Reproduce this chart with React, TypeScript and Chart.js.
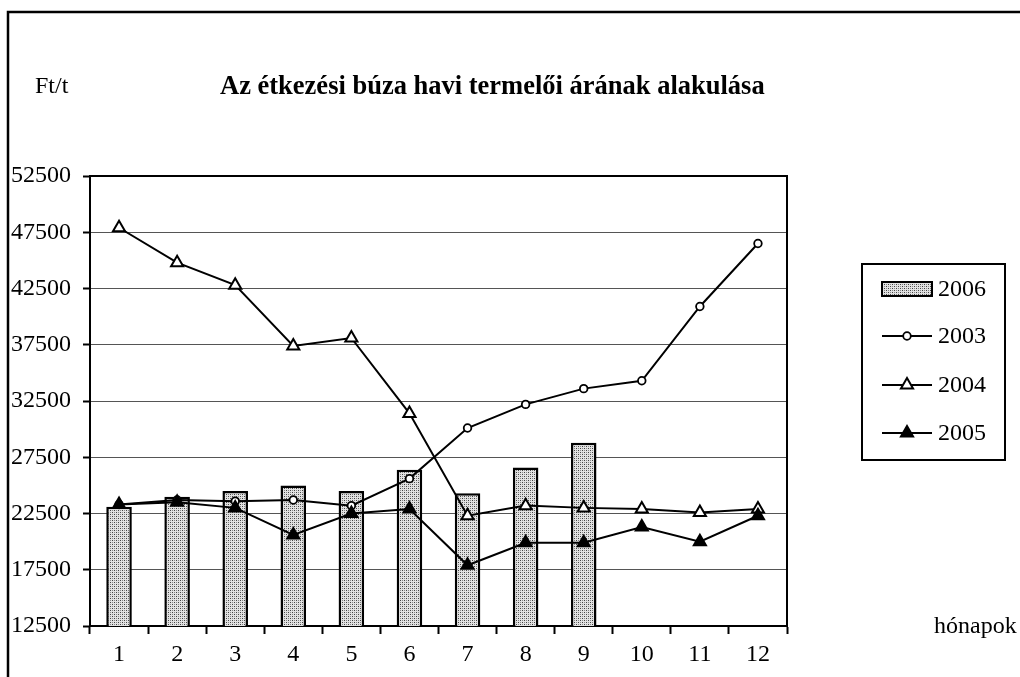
import React, { useEffect, useRef } from "react";
import { Chart, registerables } from "chart.js";

Chart.register(...registerables);

const categories = ["1", "2", "3", "4", "5", "6", "7", "8", "9", "10", "11", "12"];
const s2006 = [23100, 24000, 24500, 25000, 24500, 26400, 24300, 26600, 28800, null, null, null];
const s2003 = [23300, 23700, 23600, 23700, 23200, 25600, 30100, 32200, 33600, 34300, 40900, 46500];
const s2004 = [47900, 44800, 42800, 37400, 38100, 31400, 22300, 23200, 23000, 22900, 22600, 22900];
const s2005 = [23300, 23500, 23000, 20600, 22500, 22900, 17900, 19900, 19900, 21300, 20000, 22300];
const yMin = 12500;
const yMax = 52500;
const yStep = 5000;
const titleText = "Az étkezési búza havi termelői árának alakulása";
const unitText = "Ft/t";
const xAxisText = "hónapok";

const FONT = "'Liberation Serif', 'Times New Roman', serif";

function makePattern(): CanvasPattern | string {
  const c = document.createElement("canvas");
  c.width = 4;
  c.height = 4;
  const g = c.getContext("2d");
  if (!g) return "#ccc";
  g.fillStyle = "#e2e2e2";
  g.fillRect(0, 0, 4, 4);
  g.fillStyle = "#444";
  g.fillRect(0, 0, 1, 1);
  g.fillRect(2, 2, 1, 1);
  g.fillStyle = "#888";
  g.fillRect(2, 0, 1, 1);
  g.fillRect(0, 2, 1, 1);
  const p = g.createPattern(c, "repeat");
  return p || "#ccc";
}

export default function App() {
  const ref = useRef<HTMLCanvasElement | null>(null);

  useEffect(() => {
    if (!ref.current) return;
    const pattern = makePattern();

    const decor = {
      id: "decor",
      afterDraw(chart: any) {
        const ctx = chart.ctx;
        const a = chart.chartArea;
        ctx.save();
        // plot top & right border
        ctx.strokeStyle = "#000";
        ctx.lineWidth = 2;
        ctx.beginPath();
        ctx.moveTo(a.left, a.top);
        ctx.lineTo(a.right, a.top);
        ctx.lineTo(a.right, a.bottom);
        ctx.stroke();
        // outer frame
        ctx.lineWidth = 2.5;
        ctx.beginPath();
        ctx.moveTo(8, 677);
        ctx.lineTo(8, 12);
        ctx.lineTo(1020, 12);
        ctx.stroke();
        // texts
        ctx.fillStyle = "#000";
        ctx.textBaseline = "middle";
        ctx.textAlign = "left";
        ctx.font = `24px ${FONT}`;
        ctx.fillText(unitText, 35, 87);
        ctx.fillText(xAxisText, 934, 627);
        ctx.font = `bold 26.5px ${FONT}`;
        ctx.fillText(titleText, 220, 87);

        // legend
        const lx = 862, ly = 264, lw = 143, lh = 196;
        ctx.lineWidth = 2;
        ctx.strokeStyle = "#000";
        ctx.strokeRect(lx, ly, lw, lh);
        const ds = chart.data.datasets;
        const rows = [289, 336, 385, 433];
        ds.forEach((d: any, i: number) => {
          const y = rows[i];
          if (d.type === "bar") {
            ctx.fillStyle = pattern;
            ctx.fillRect(882, y - 7, 50, 14);
            ctx.lineWidth = 2;
            ctx.strokeStyle = "#000";
            ctx.strokeRect(882, y - 7, 50, 14);
          } else {
            ctx.strokeStyle = "#000";
            ctx.lineWidth = 2;
            ctx.beginPath();
            ctx.moveTo(882, y);
            ctx.lineTo(932, y);
            ctx.stroke();
            ctx.fillStyle = d.pointBackgroundColor;
            ctx.lineWidth = d.pointBorderWidth;
            ctx.beginPath();
            if (d.pointStyle === "circle") {
              ctx.arc(907, y, d.pointRadius, 0, Math.PI * 2);
            } else {
              const r = d.pointRadius;
              for (let k = 0; k < 3; k++) {
                const ang = (k * 2 * Math.PI) / 3;
                const px = 907 + Math.sin(ang) * r;
                const py = y - Math.cos(ang) * r;
                if (k === 0) ctx.moveTo(px, py);
                else ctx.lineTo(px, py);
              }
              ctx.closePath();
            }
            ctx.fill();
            ctx.stroke();
          }
          ctx.fillStyle = "#000";
          ctx.font = `24px ${FONT}`;
          ctx.textAlign = "left";
          ctx.textBaseline = "middle";
          ctx.fillText(d.label, 938, y + 1);
        });
        ctx.restore();
      },
    };

    const chart = new Chart(ref.current, {
      type: "bar",
      data: {
        labels: categories,
        datasets: [
          {
            type: "bar",
            label: "2006",
            data: s2006,
            backgroundColor: pattern as any,
            borderColor: "#000",
            borderWidth: 2.5,
            borderSkipped: "bottom",
            barPercentage: 0.44,
            categoryPercentage: 1,
            order: 10,
          },
          {
            type: "line",
            label: "2003",
            data: s2003,
            borderColor: "#000",
            borderWidth: 2,
            pointStyle: "circle",
            pointRadius: 3.8,
            pointBorderWidth: 1.8,
            pointBackgroundColor: "#fff",
            pointBorderColor: "#000",
            tension: 0,
            order: 3,
          },
          {
            type: "line",
            label: "2004",
            data: s2004,
            borderColor: "#000",
            borderWidth: 2,
            pointStyle: "triangle",
            pointRadius: 7,
            pointBorderWidth: 2,
            pointBackgroundColor: "#fff",
            pointBorderColor: "#000",
            tension: 0,
            order: 2,
          },
          {
            type: "line",
            label: "2005",
            data: s2005,
            borderColor: "#000",
            borderWidth: 2,
            pointStyle: "triangle",
            pointRadius: 7,
            pointBorderWidth: 2,
            pointBackgroundColor: "#000",
            pointBorderColor: "#000",
            tension: 0,
            order: 1,
          },
        ] as any,
      },
      options: {
        responsive: false,
        animation: false,
        layout: { padding: { left: 0, top: 176, right: 233, bottom: 0 } },
        plugins: {
          legend: { display: false },
          title: { display: false },
          tooltip: { enabled: false },
        },
        scales: {
          x: {
            offset: true,
            grid: {
              offset: true,
              drawOnChartArea: false,
              drawTicks: true,
              tickLength: 8,
              tickColor: "#000",
              tickWidth: 2,
            },
            border: { color: "#000", width: 2 },
            ticks: {
              color: "#000",
              font: { family: FONT, size: 24 },
              padding: 6,
              maxRotation: 0,
            },
            afterFit: (s: any) => {
              s.height = 51;
            },
          },
          y: {
            min: yMin,
            max: yMax,
            grid: {
              color: "#555",
              lineWidth: 1,
              tickLength: 7,
              tickColor: "#000",
              tickWidth: 2,
            },
            border: { color: "#000", width: 2 },
            ticks: {
              stepSize: yStep,
              color: "#000",
              font: { family: FONT, size: 24 },
              padding: 12,
              callback: (v: any) => String(v),
            },
            afterFit: (s: any) => {
              s.width = 90;
            },
          },
        },
      },
      plugins: [decor],
    });
    return () => chart.destroy();
  }, []);

  return (
    <div style={{ position: "absolute", left: 0, top: 0, width: 1020, height: 677, background: "#fff" }}>
      <canvas ref={ref} width={1020} height={677} style={{ display: "block" }} />
    </div>
  );
}
